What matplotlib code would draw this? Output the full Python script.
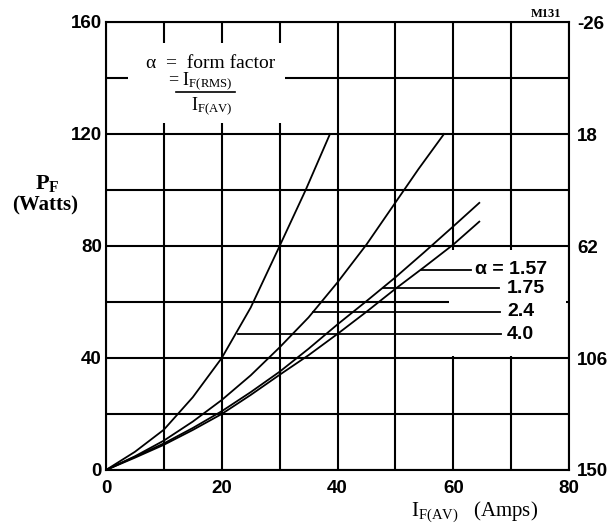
import matplotlib
matplotlib.use("Agg")
import matplotlib.pyplot as plt
from matplotlib.patches import Rectangle

plt.rcParams['mathtext.fontset'] = 'custom'
plt.rcParams['mathtext.rm'] = 'Liberation Serif'
plt.rcParams['mathtext.it'] = 'Liberation Serif:italic'
plt.rcParams['mathtext.bf'] = 'Liberation Serif:bold'

# ---- data ----
a157_x = [0, 5, 10, 15, 20, 25, 30, 35, 40, 45, 50, 55, 60, 64.5]
a157_y = [0, 4.4, 9.0, 14.3, 20.0, 26.8, 34.0, 41.0, 48.6, 56.5, 64.7, 72.5, 80.5, 88.7]

a175_x = [0, 5, 10, 15, 20, 25, 30, 35, 40, 45, 50, 55, 60, 64.5]
a175_y = [0, 4.7, 9.5, 15.0, 21.0, 27.8, 35.1, 43.3, 52.0, 60.3, 68.8, 77.8, 87.0, 95.4]

a24_x = [0, 5, 10, 15, 20, 25, 30, 35, 40, 45, 50, 54, 58.4]
a24_y = [0, 4.9, 10.5, 17.3, 25.0, 33.8, 43.8, 54.5, 67.0, 80.5, 95.5, 107.5, 120.0]

a40_x = [0, 5, 10, 15, 20, 25, 30, 34.5, 38.7]
a40_y = [0, 6.5, 14.4, 26.0, 40.0, 58.0, 80.0, 100.0, 120.0]

curves = [(a157_x, a157_y), (a175_x, a175_y), (a24_x, a24_y), (a40_x, a40_y)]

labels = ['\u03b1 = 1.57', '1.75', '2.4', '4.0']
leader_y = [71.6, 64.9, 56.6, 48.5]
leader_x0 = [54.5, 47.9, 35.8, 22.8]
leader_x1 = [63.1, 67.9, 68.0, 68.3]
label_x = [63.8, 69.3, 69.3, 69.3]

x_major = [0, 20, 40, 60, 80]
x_minor = [10, 30, 50, 70]
y_major = [0, 40, 80, 120, 160]
y_minor = [20, 60, 100, 140]
right_labels = ['150', '106', '62', '18', '-26']

# ---- figure ----
fig = plt.figure(figsize=(6.08, 5.31), dpi=100)
ax = fig.add_axes([106/608, 1-470/531, (569-106)/608, (470-22)/531])
ax.set_xlim(0, 80)
ax.set_ylim(0, 160)
ax.set_axisbelow(True)

ax.set_xticks(x_major)
ax.set_xticks(x_minor, minor=True)
ax.set_yticks(y_major)
ax.set_yticks(y_minor, minor=True)
ax.grid(True, which='both', color='black', linewidth=1.5)

tickfont = dict(family='Liberation Sans', weight='bold', size=13.5)
ax.set_xticklabels([str(v) for v in x_major], fontdict=tickfont)
ax.set_yticklabels([str(v) for v in y_major], fontdict=tickfont)
ax.tick_params(which='both', length=0)
ax.tick_params(axis='x', pad=7)
ax.tick_params(axis='y', pad=3)

for s in ax.spines.values():
    s.set_linewidth(1.5)

# white label areas that interrupt the grid
ax.add_patch(Rectangle((3.8, 124), 27.1, 28.5, facecolor='white', edgecolor='none', zorder=1))
ax.add_patch(Rectangle((59.3, 40.7), 20.1, 37.9, facecolor='white', edgecolor='none', zorder=1))

for xs, ys in curves:
    ax.plot(xs, ys, color='black', linewidth=1.3, zorder=3)

for lab, ly, x0, x1, lx in zip(labels, leader_y, leader_x0, leader_x1, label_x):
    ax.plot([x0, x1], [ly, ly], color='black', linewidth=1.3, zorder=3)
    ax.text(lx, ly, lab, ha='left', va='center', family='Liberation Sans',
            weight='bold', size=14, zorder=4)

# form factor note
serif = 'Liberation Serif'
ax.text(18.1, 145.3, '\u03b1  =  form factor', ha='center', va='center',
        family=serif, size=14, zorder=4)
ax.text(16.3, 139.0, r'= $\mathrm{I}_{\mathrm{F(RMS)}}$', ha='center', va='center',
        family=serif, size=13, zorder=4)
ax.plot([12.1, 22.3], [135.1, 135.1], color='black', linewidth=1.2, zorder=4)
ax.text(18.2, 130.0, r'$\mathrm{I}_{\mathrm{F(AV)}}$', ha='center', va='center',
        family=serif, size=13, zorder=4)

# right axis
ax2 = ax.twinx()
ax2.set_ylim(0, 160)
ax2.set_yticks(y_major)
ax2.set_yticklabels(right_labels, fontdict=tickfont)
ax2.tick_params(length=0, pad=6)
for s in ax2.spines.values():
    s.set_visible(False)

# axis labels
ax.text(63.7, -15, r'$\mathrm{I}_{\mathrm{F(AV)}}$   (Amps)', ha='center', va='center',
        family=serif, size=15, clip_on=False)
fig.text(47/608, 1-183/531, r'$\mathbf{P}_{\mathbf{F}}$', ha='center', va='center',
         family=serif, weight='bold', size=16)
fig.text(45/608, 1-205/531, '(Watts)', ha='center', va='center',
         family=serif, weight='bold', size=15)
fig.text(546/608, 1-14/531, 'M131', ha='center', va='center',
         family=serif, weight='bold', size=9)

fig.savefig('out.png', dpi=100)
